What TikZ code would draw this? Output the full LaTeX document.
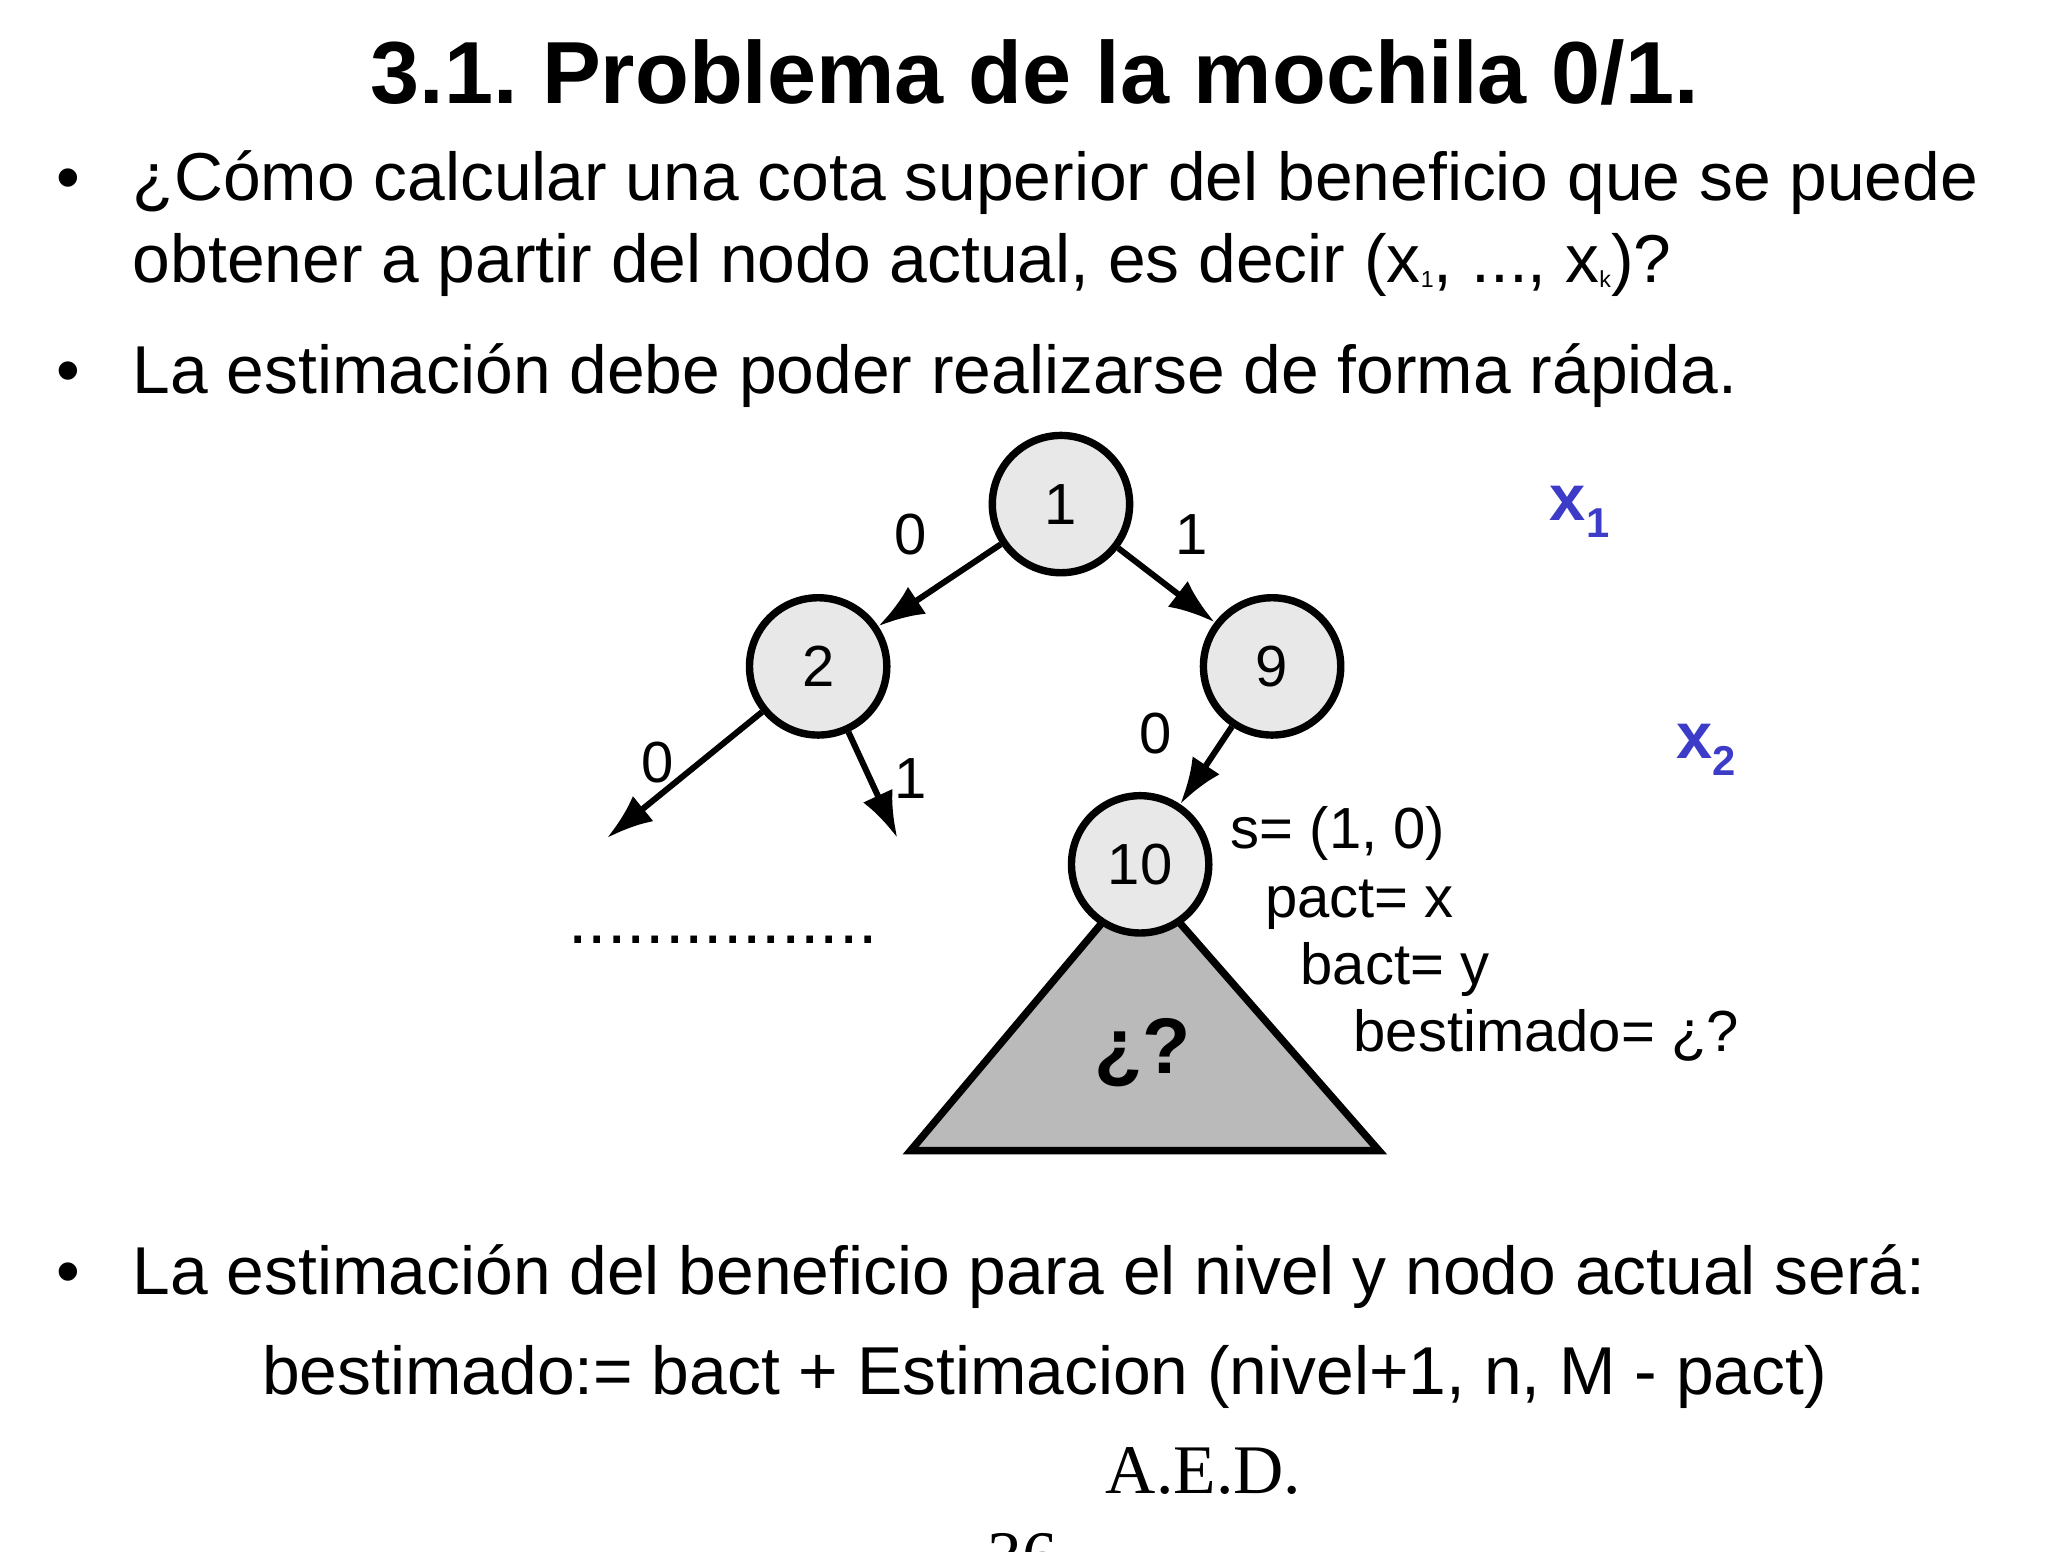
\documentclass[tikz,border=0pt]{standalone}
\usepackage{fontspec}
\usetikzlibrary{arrows.meta}
\setmainfont{Liberation Sans}
\newfontfamily\serifx{Liberation Serif}
\frenchspacing
\definecolor{xblue}{RGB}{60,60,200}
\begin{document}
\begin{tikzpicture}[x=0.01cm,y=-0.01cm,
  nd/.style={circle,draw,line width=1.6pt,fill=black!9,minimum size=1.04cm,inner sep=0pt,font=\fontsize{12.5}{12.5}\selectfont},
  ed/.style={line width=1.3pt,-{Latex[length=10pt,width=7pt]}},
  lb/.style={font=\fontsize{12.5}{12.5}\selectfont},
  body/.style={anchor=base west,font=\fontsize{14.6}{14.6}\selectfont,inner sep=0pt},
  xl/.style={font=\bfseries\fontsize{14}{14}\selectfont,text=xblue}]
\useasboundingbox (0,0) rectangle (1552,1176);
\clip (0,0) rectangle (1552,1176);
\node[font=\bfseries\fontsize{19}{19}\selectfont] (title) at (784,55) {3.1. Problema de la mochila 0/1.};
\node[body] (b1) at (42,152) {•};
\node[body] (l1) at (100,152) {¿Cómo calcular una cota superior del beneficio que se puede};
\node[body] (l2) at (100,214) {obtener a partir del nodo actual, es decir (x{\tiny\raisebox{-0.4ex}{1}}, ..., x{\tiny\raisebox{-0.4ex}{k}})?};
\node[body] (b2) at (42,298) {•};
\node[body] (l3) at (100,298) {La estimación debe poder realizarse de forma rápida.};
% triangle
\draw[line width=1.6pt,fill=black!27] (864,665) -- (1045,872) -- (690,872) -- cycle;
\node[nd] (n1) at (804,382) {1};
\node[nd] (n2) at (620,505) {2};
\node[nd] (n9) at (964,505) {9};
\node[nd] (n10) at (864,655) {10};
\coordinate (f1) at (460,635);
\coordinate (f2) at (680,635);
\draw[ed] (n1) -- (n2);
\draw[ed] (n1) -- (n9);
\draw[ed] (n2) -- (f1);
\draw[ed] (n2) -- (f2);
\draw[ed] (n9) -- (n10);
\node[lb] (e1) at (690,405) {0};
\node[lb] (e2) at (903,405) {1};
\node[lb] (e3) at (498,578) {0};
\node[lb] (e4) at (690,590) {1};
\node[lb] (e5) at (876,556) {0};
\node[font=\fontsize{15}{15}\selectfont] (dots) at (548,712) {................};
\node[font=\bfseries\fontsize{17}{17}\selectfont] (q) at (866,798) {¿?};
\node[xl] (x1) at (1197,388) {x\raisebox{-0.5ex}{\fontsize{9}{9}\selectfont 1}};
\node[xl] (x2) at (1293,568) {x\raisebox{-0.5ex}{\fontsize{9}{9}\selectfont 2}};
\node[lb,anchor=base west,inner sep=0pt] (s) at (932,643) {s= (1, 0)};
\node[lb,anchor=base west,inner sep=0pt] (p) at (958,695) {pact= x};
\node[lb,anchor=base west,inner sep=0pt] (b) at (985,746) {bact= y};
\node[lb,anchor=base west,inner sep=0pt] (be) at (1025,797) {bestimado= ¿?};
\node[body] (b3) at (42,981) {•};
\node[body] (l4) at (100,981) {La estimación del beneficio para el nivel y nodo actual será:};
\node[body] (l5) at (198,1057) {bestimado:= bact + Estimacion (nivel+1, n, M - pact)};
\node[font=\serifx\fontsize{15}{15}\selectfont] (aed) at (912,1115) {A.E.D.};
\node[font=\serifx\fontsize{15}{15}\selectfont] (pg) at (775,1180) {36};
\end{tikzpicture}
\end{document}
